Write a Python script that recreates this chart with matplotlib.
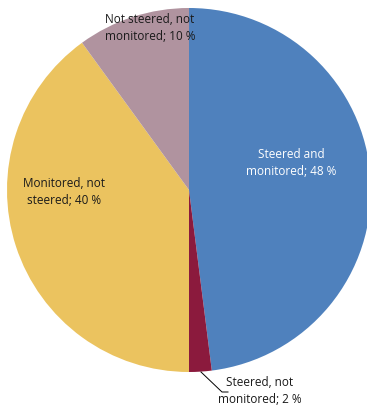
import matplotlib.pyplot as plt

labels = ["Steered and\nmonitored; 48 %", "Steered, not\nmonitored; 2 %",
          "Monitored, not\nsteered; 40 %", "Not steered, not\nmonitored; 10 %"]
values = [48, 2, 40, 10]
colors = ["#4F81BD", "#8B1A3D", "#EBC35F", "#B0939F"]

plt.rcParams["font.family"] = ["Open Sans", "DejaVu Sans"]

fig = plt.figure(figsize=(3.67, 4.09), dpi=100)
ax = fig.add_axes([0, 0, 1, 1])
H = 409
ax.pie(values, colors=colors, startangle=90, counterclock=False,
       center=(189, H - 190), radius=182,
       wedgeprops=dict(linewidth=0))
ax.set_xlim(0, 367)
ax.set_ylim(0, H)
ax.set_aspect("equal")
ax.axis("off")

fs = 8.5
ax.text(291, H - 163, labels[0], ha="center", va="center", fontsize=fs, color="white", linespacing=1.35)
ax.text(64, H - 192, labels[2], ha="center", va="center", fontsize=fs, color="#1a1a1a", linespacing=1.35)
ax.text(150, H - 28, labels[3], ha="center", va="center", fontsize=fs, color="#1a1a1a", linespacing=1.35)
ax.text(260, H - 391, labels[1], ha="center", va="center", fontsize=fs, color="#1a1a1a", linespacing=1.35)
# leader line for the small slice
ax.plot([201, 222, 228], [H - 372, H - 392, H - 392], color="black", lw=0.7)

fig.savefig("out.png", dpi=100)
